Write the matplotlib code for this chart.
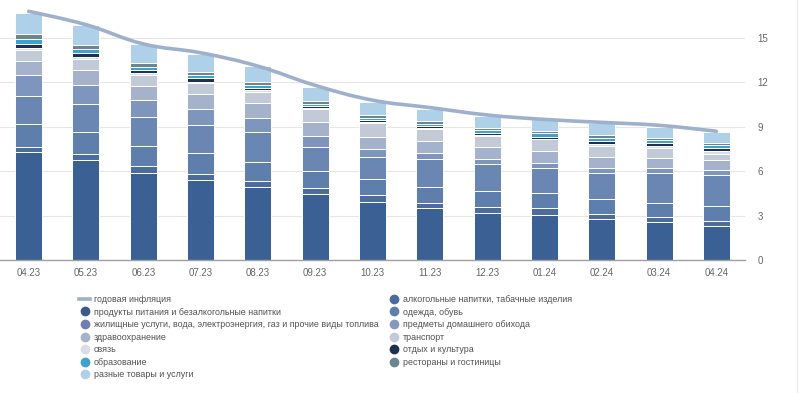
import numpy as np
import matplotlib
matplotlib.use('Agg')
import matplotlib.pyplot as plt
from matplotlib.path import Path
from matplotlib.patches import PathPatch
from matplotlib.lines import Line2D

months = ['04.23', '05.23', '06.23', '07.23', '08.23', '09.23', '10.23',
          '11.23', '12.23', '01.24', '02.24', '03.24', '04.24']

inflation = [16.8, 15.9, 14.6, 14.0, 13.1, 11.8, 10.8, 10.3, 9.8, 9.5, 9.3, 9.1, 8.7]

# contributions, bottom of the stack first
food = [7.32, 6.76, 5.90, 5.41, 4.95, 4.46, 3.94, 3.49, 3.20, 3.04, 2.77, 2.59, 2.30]
alcohol = [0.30, 0.40, 0.45, 0.38, 0.41, 0.38, 0.45, 0.38, 0.40, 0.45, 0.32, 0.34, 0.36]
clothing = [1.55, 1.49, 1.37, 1.42, 1.28, 1.17, 1.08, 1.08, 1.06, 1.01, 1.01, 0.94, 0.99]
housing = [1.90, 1.89, 1.92, 1.93, 1.99, 1.65, 1.47, 1.85, 1.80, 1.74, 1.80, 1.99, 2.09]
household = [1.42, 1.31, 1.17, 1.06, 0.99, 0.74, 0.58, 0.45, 0.36, 0.33, 0.30, 0.34, 0.34]
health = [0.95, 0.99, 0.95, 1.02, 0.97, 0.90, 0.81, 0.81, 0.84, 0.79, 0.78, 0.67, 0.68]
transport = [0.75, 0.74, 0.74, 0.72, 0.79, 0.88, 0.90, 0.77, 0.72, 0.79, 0.74, 0.68, 0.40]
communication = [0.15, 0.15, 0.11, 0.11, 0.11, 0.10, 0.08, 0.10, 0.07, 0.05, 0.15, 0.15, 0.20]
recreation = [0.27, 0.27, 0.23, 0.23, 0.16, 0.13, 0.13, 0.10, 0.11, 0.13, 0.17, 0.18, 0.22]
education = [0.35, 0.25, 0.20, 0.20, 0.20, 0.15, 0.18, 0.18, 0.20, 0.22, 0.20, 0.20, 0.20]
restaurants = [0.30, 0.25, 0.25, 0.20, 0.20, 0.20, 0.16, 0.15, 0.15, 0.15, 0.20, 0.19, 0.15]
misc = [1.45, 1.35, 1.28, 1.24, 1.08, 0.95, 0.92, 0.82, 0.83, 0.80, 0.79, 0.72, 0.74]

line_label = 'годовая инфляция'
series = [
    ('продукты питания и безалкогольные напитки', food, '#3a6094'),
    ('алкогольные напитки, табачные изделия', alcohol, '#4c6c9e'),
    ('одежда, обувь', clothing, '#5e7eab'),
    ('жилищные услуги, вода, электроэнергия, газ и прочие виды топлива', housing, '#6a86b2'),
    ('предметы домашнего обихода', household, '#7e96bd'),
    ('здравоохранение', health, '#a4b3cb'),
    ('транспорт', transport, '#c2cad8'),
    ('связь', communication, '#dadde5'),
    ('отдых и культура', recreation, '#1d3150'),
    ('образование', education, '#3ea3cc'),
    ('рестораны и гостиницы', restaurants, '#6b878d'),
    ('разные товары и услуги', misc, '#aed0e8'),
]
legend_colors = {
    'продукты питания и безалкогольные напитки': '#3a5a8c',
    'жилищные услуги, вода, электроэнергия, газ и прочие виды топлива': '#6f7db3',
    'предметы домашнего обихода': '#8498c0',
    'здравоохранение': '#a5b4c8',
    'транспорт': '#c5cad6',
}
# legend columns as laid out in the picture
legend_left = [line_label,
               'продукты питания и безалкогольные напитки',
               'жилищные услуги, вода, электроэнергия, газ и прочие виды топлива',
               'здравоохранение', 'связь', 'образование', 'разные товары и услуги']
legend_right = ['алкогольные напитки, табачные изделия', 'одежда, обувь',
                'предметы домашнего обихода', 'транспорт', 'отдых и культура',
                'рестораны и гостиницы']
line_color = '#9fb0cc'

plt.rcParams['font.family'] = ['Liberation Sans', 'DejaVu Sans']


def spline_path(xs, ys, smoothing=1.5):
    # bezier control points the way highcharts draws a spline
    denom = smoothing + 1
    n = len(xs)
    left = []
    right = []
    for i in range(n):
        x, y = xs[i], ys[i]
        if 0 < i < n - 1:
            lx = (smoothing * x + xs[i - 1]) / denom
            ly = (smoothing * y + ys[i - 1]) / denom
            rx = (smoothing * x + xs[i + 1]) / denom
            ry = (smoothing * y + ys[i + 1]) / denom
            corr = ((ry - ly) * (rx - x)) / (rx - lx) + y - ry
            ly += corr
            ry += corr
            left.append((lx, ly))
            right.append((rx, ry))
        else:
            left.append((x, y))
            right.append((x, y))
    verts = [(xs[0], ys[0])]
    codes = [Path.MOVETO]
    for i in range(1, n):
        verts += [right[i - 1], left[i], (xs[i], ys[i])]
        codes += [Path.CURVE4] * 3
    return Path(verts, codes)


fig = plt.figure(figsize=(8.0, 3.93), dpi=100)
ax = fig.add_axes([0.0, 1 - 260 / 393, 745 / 800, 260 / 393])

x = np.arange(len(months))
bottom = np.zeros(len(months))
for name, vals, color in series:
    ax.bar(x, vals, width=0.47, bottom=bottom, color=color,
           edgecolor='white', linewidth=0.7, zorder=2)
    bottom += np.array(vals)

patch = PathPatch(spline_path(list(x), inflation), facecolor='none',
                  edgecolor=line_color, linewidth=2.6, zorder=4,
                  capstyle='round', joinstyle='round')
ax.add_patch(patch)

ax.set_xlim(-0.5, len(months) - 0.5)
ax.set_ylim(0, 260 / 14.8)
ax.set_yticks([0, 3, 6, 9, 12, 15])
ax.set_xticks(x)
ax.set_xticklabels(months, family=['Liberation Sans Narrow', 'Liberation Sans'])
ax.yaxis.tick_right()
ax.tick_params(axis='both', length=0, labelsize=7, labelcolor='#666666')
ax.tick_params(axis='x', pad=6)
ax.tick_params(axis='y', pad=9)
ax.grid(axis='y', color='#e6e6e6', linewidth=0.8, zorder=0)
ax.set_axisbelow(True)
for s in ['top', 'left', 'right']:
    ax.spines[s].set_visible(False)
ax.spines['bottom'].set_color('#a0a0a0')
ax.spines['bottom'].set_linewidth(1.0)
ax.spines['bottom'].set_zorder(5)

# legend handles
handle_map = {line_label: Line2D([], [], color=line_color, linewidth=2.6)}
for name, vals, color in series:
    c = legend_colors.get(name, color)
    handle_map[name] = Line2D([], [], linestyle='none', marker='o', markersize=6,
                              markerfacecolor=c, markeredgecolor=c)

legend_kw = dict(loc='upper left', frameon=False, fontsize=6.4, borderpad=0,
                 handlelength=1.25, handletextpad=0.4, labelspacing=0.4,
                 borderaxespad=0, labelcolor='#505050')
fig.legend([handle_map[n] for n in legend_left], legend_left,
           bbox_to_anchor=(79 / 800, 1 - 295 / 393), **legend_kw)
fig.legend([handle_map[n] for n in legend_right], legend_right,
           bbox_to_anchor=(388.5 / 800, 1 - 295 / 393), **legend_kw)

fig.add_artist(Line2D([797 / 800, 797 / 800], [0, 1], color='#ececec', linewidth=1.0))

fig.savefig('out.png', dpi=100)
